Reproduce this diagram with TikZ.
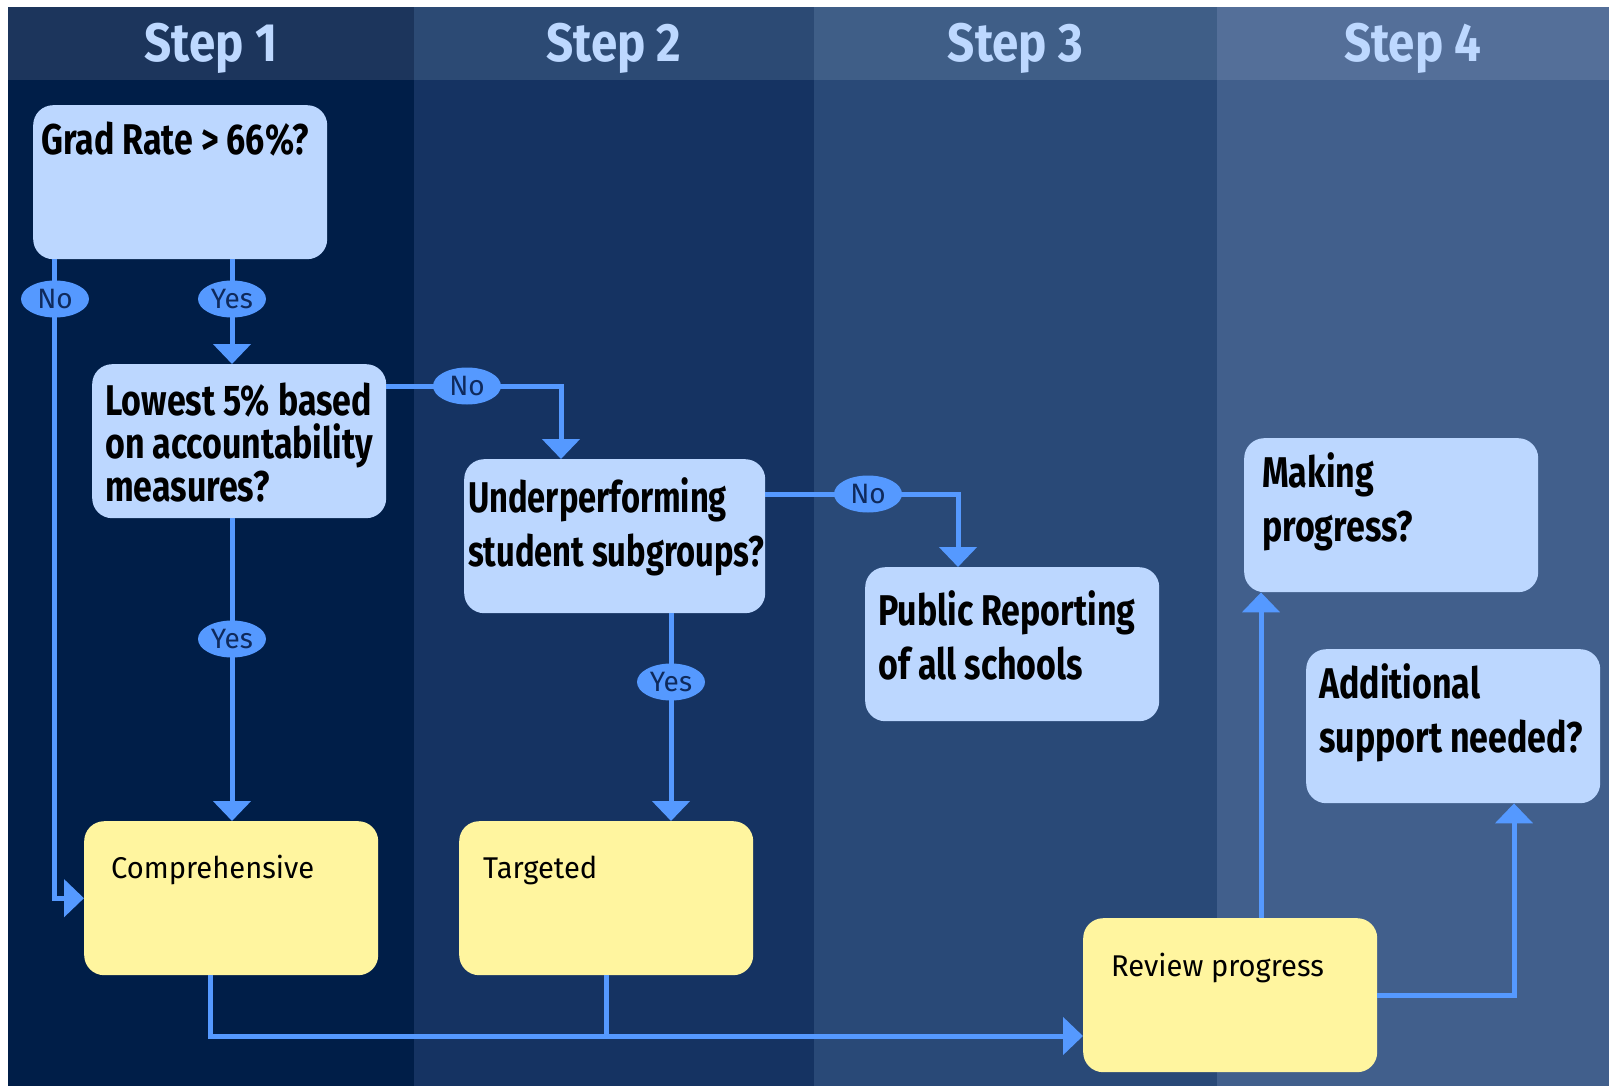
\documentclass[tikz,border=0pt]{standalone}
\usepackage{fontspec}
\usetikzlibrary{arrows.meta,shapes.geometric}
\newfontfamily\headfont[FakeStretch=0.88]{Fira Sans}
\newfontfamily\boxfont[FakeStretch=0.79]{Fira Sans}
\newfontfamily\boxfontn[FakeStretch=0.76]{Fira Sans}
\newfontfamily\tagfont{Fira Sans}
\newfontfamily\actfont[FakeStretch=0.97]{Fira Sans}

\definecolor{bodyA}{HTML}{001E48}
\definecolor{bodyB}{HTML}{153362}
\definecolor{bodyC}{HTML}{294977}
\definecolor{bodyD}{HTML}{415F8C}
\definecolor{headA}{HTML}{1C355C}
\definecolor{headB}{HTML}{2C4A74}
\definecolor{headC}{HTML}{3F5E87}
\definecolor{headD}{HTML}{546F99}
\definecolor{steptxt}{HTML}{BDD8FF}
\definecolor{qfill}{HTML}{BCD7FF}
\definecolor{afill}{HTML}{FFF59F}
\definecolor{flowc}{HTML}{5599FF}
\definecolor{tagtxt}{HTML}{0F2A5C}

\tikzset{
    qbox/.style={fill=qfill, rounded corners=20pt, minimum width=294pt, minimum height=154pt, inner sep=0pt, anchor=north west},
    abox/.style={qbox, fill=afill},
    qtext/.style={anchor=base west, inner sep=0pt, align=left, font=\boxfont\bfseries\fontsize{43}{54}\selectfont},
    atext/.style={anchor=base west, inner sep=0pt, font=\actfont\fontsize{30}{36}\selectfont},
    tag/.style={ellipse, fill=flowc, minimum width=68pt, minimum height=37pt, inner sep=0pt, text=tagtxt, font=\tagfont\fontsize{28}{28}\selectfont},
    line/.style={draw=flowc, line width=5pt},
    flow/.style={line, -{Triangle[width=37pt,length=20pt]}}
}

\begin{document}
\begin{tikzpicture}[x=1pt,y=-1pt]
        \useasboundingbox (0,0) rectangle (1609,1086);
        \fill[white] (0,0) rectangle (1609,1086);

        \foreach \xa\xb\body\head\name in{8/414/bodyA/headA/1,414/814/bodyB/headB/2,814/1217/bodyC/headC/3,1217/1609/bodyD/headD/4} {
                \fill[\body] (\xa,80) rectangle (\xb,1086);
                \fill[\head] (\xa,7) rectangle (\xb,80);
                \node[text=steptxt, font=\headfont\bfseries\fontsize{54}{54}\selectfont, anchor=base] (step\name) at ({(\xa+\xb)/2},62) {Step \name};
            }

        \node[qbox] (grad) at (33,105) {};
        \node[qbox] (low) at (92,364) {};
        \node[qbox, minimum width=301pt] (under) at (464,459) {};
        \node[qbox] (pub) at (865,567) {};
        \node[qbox] (mak) at (1244,438) {};
        \node[qbox] (add) at (1306,649) {};
        \node[abox] (comp) at (84,821) {};
        \node[abox] (targ) at (459,821) {};
        \node[abox] (rev) at (1083,918) {};

        % base anchor sits on the last line
        \node[qtext] (gradtxt) at (41,155) {Grad Rate > 66\%?};
        \node[qtext, font=\boxfont\bfseries\fontsize{43}{43}\selectfont] (lowtxt) at (105,501) {Lowest 5\% based\\on accountability\\measures?};
        \node[qtext, font=\boxfontn\bfseries\fontsize{43}{54}\selectfont] (undertxt) at (468,566) {Underperforming\\student subgroups?};
        \node[qtext] (pubtxt) at (878,679) {Public Reporting\\of all schools};
        \node[qtext] (maktxt) at (1262,541) {Making\\progress?};
        \node[qtext] (addtxt) at (1319,752) {Additional\\support needed?};
        \node[atext] (comptxt) at (111,878) {Comprehensive};
        \node[atext] (targtxt) at (483,878) {Targeted};
        \node[atext] (revtxt) at (1111,976) {Review progress};

        \coordinate (xa) at (232,0);
        \coordinate (xb) at (671,0);
        \coordinate (xc) at (1261,0);
        \coordinate (rjoin) at ([yshift=-118pt]rev.north west);

        \draw[flow] ([xshift=21pt]grad.south west) |- (comp.west);
        \draw[flow] (grad.south -| xa) -- (low.north -| xa);
        \draw[flow] (low.south -| xa) -- (comp.north -| xa);
        \draw[flow] ([yshift=-22pt]low.north east) -| ([xshift=97pt]under.north west);
        \draw[flow] ([yshift=-35pt]under.north east) -| ([xshift=93pt]pub.north west);
        \draw[flow] (under.south -| xb) -- (targ.north -| xb);
        \draw[flow] ([xshift=126pt]comp.south west) |- (rjoin);
        \draw[line] (targ.south) -- (targ.south |- rjoin);
        \draw[flow] (rev.north -| xc) -- (mak.south -| xc);
        \draw[flow] (rev.east) -| ([xshift=208pt]add.south west);

        \node[tag] (noA) at (55,299) {No};
        \node[tag] (yesA) at (232,299) {Yes};
        \node[tag] (noB) at (467,386) {No};
        \node[tag] (yesB) at (232,639) {Yes};
        \node[tag] (noC) at (868,494) {No};
        \node[tag] (yesC) at (671,682) {Yes};

    \end{tikzpicture}
\end{document}
